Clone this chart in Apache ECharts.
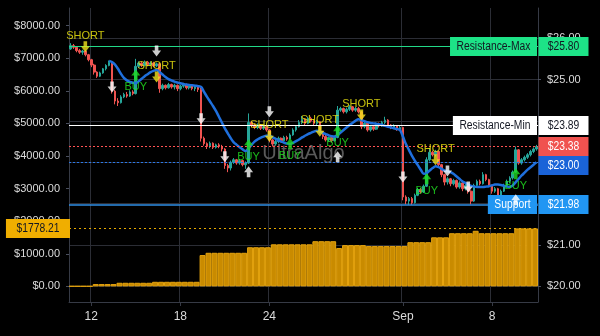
<!DOCTYPE html>
<html>
<head>
<meta charset="utf-8">
<script src="https://cdn.jsdelivr.net/npm/echarts@6/dist/echarts.min.js"></script>
<style>
html,body{margin:0;padding:0;background:#000;}
#chart{width:600px;height:336px;}
</style>
</head>
<body>
<div id="chart"></div>
<script>
// Price candles: [open, close, low, high]
const candles = [
[25.74,25.82,25.72,25.88],[25.82,25.78,25.74,25.86],[25.78,25.70,25.66,25.80],[25.70,25.66,25.62,25.74],[25.66,25.69,25.60,25.72],
[25.69,25.60,25.56,25.71],[25.60,25.48,25.44,25.62],[25.48,25.35,25.30,25.50],[25.35,25.18,25.12,25.38],[25.18,25.08,25.04,25.20],
[25.08,25.16,25.06,25.19],[25.16,25.26,25.14,25.28],[25.26,25.34,25.22,25.37],[25.34,25.42,25.32,25.46],[25.42,24.72,24.66,25.44],
[24.72,24.48,24.40,24.75],[24.48,24.44,24.36,24.55],[24.44,24.58,24.42,24.62],[24.58,24.64,24.55,24.68],[24.64,24.60,24.56,24.70],
[24.60,24.70,24.58,24.74],[24.70,24.66,24.62,24.74],[24.66,25.32,24.64,25.50],[25.32,25.40,25.28,25.44],[25.40,25.34,25.30,25.44],
[25.34,25.42,25.32,25.46],[25.42,25.36,25.32,25.45],[25.36,25.40,25.34,25.44],[25.40,25.33,25.30,25.43],[25.33,25.38,25.30,25.41],
[25.38,24.78,24.68,25.40],[24.78,24.86,24.74,24.90],[24.86,24.80,24.76,24.88],[24.80,24.88,24.78,24.92],[24.88,24.82,24.78,24.90],
[24.82,24.86,24.76,24.90],[24.86,24.78,24.72,24.88],[24.78,24.84,24.74,24.87],[24.84,24.88,24.80,24.92],[24.88,24.80,24.76,24.90],
[24.80,24.85,24.76,24.88],[24.85,24.78,24.74,24.88],[24.78,24.82,24.72,24.86],[24.82,24.76,24.70,24.85],[24.76,23.58,23.50,24.80],
[23.58,23.45,23.40,23.62],[23.45,23.38,23.32,23.48],[23.38,23.46,23.34,23.50],[23.46,23.36,23.32,23.48],[23.36,23.42,23.33,23.45],
[23.42,23.38,23.34,23.46],[23.38,23.32,23.26,23.42],[23.32,22.92,22.84,23.34],[22.92,22.86,22.76,22.96],[22.86,23.00,22.80,23.04],
[23.00,23.06,22.96,23.10],[23.06,22.98,22.94,23.08],[22.98,23.04,22.94,23.08],[23.04,22.94,22.90,23.06],[22.94,22.98,22.84,23.02],
[22.98,23.96,22.96,24.18],[23.96,23.90,23.84,24.00],[23.90,23.84,23.80,23.94],[23.84,23.90,23.80,23.94],[23.90,23.82,23.78,23.92],
[23.82,23.86,23.78,23.90],[23.86,23.78,23.74,23.88],[23.78,23.54,23.48,23.80],[23.54,23.44,23.38,23.56],[23.44,23.50,23.40,23.54],
[23.50,23.58,23.46,23.62],[23.58,23.52,23.48,23.60],[23.52,23.60,23.50,23.64],[23.60,23.56,23.52,23.64],[23.56,23.66,23.54,23.70],
[23.66,23.78,23.64,23.82],[23.78,23.86,23.74,23.90],[23.86,23.96,23.84,24.02],[23.96,24.04,23.92,24.12],[24.04,23.94,23.90,24.06],
[23.94,24.06,23.92,24.10],[24.06,24.00,23.96,24.10],[24.00,23.94,23.90,24.04],[23.94,23.98,23.90,24.02],[23.98,23.74,23.70,24.00],
[23.74,23.62,23.56,23.76],[23.62,23.54,23.50,23.66],[23.54,23.60,23.50,23.62],[23.60,23.52,23.48,23.62],[23.52,23.60,23.50,23.64],
[23.60,24.26,23.58,24.36],[24.26,24.30,24.22,24.34],[24.30,24.22,24.18,24.32],[24.22,24.28,24.18,24.32],[24.28,24.34,24.24,24.38],
[24.34,24.26,24.22,24.36],[24.26,24.30,24.22,24.34],[24.30,24.22,24.18,24.34],[24.22,23.86,23.80,24.24],[23.86,23.94,23.82,23.98],
[23.94,23.78,23.74,23.96],[23.78,23.86,23.74,23.90],[23.86,23.80,23.76,23.90],[23.80,23.92,23.78,23.96],[23.92,23.88,23.84,23.96],
[23.88,23.96,23.86,24.00],[23.96,24.02,23.92,24.10],[24.02,23.90,23.86,24.04],[23.90,23.84,23.80,23.92],[23.84,23.88,23.80,23.92],
[23.88,23.80,23.76,23.90],[23.80,23.84,23.76,23.88],[23.84,22.16,22.08,23.86],[22.16,22.06,21.98,22.20],[22.06,22.12,21.97,22.16],
[22.12,22.02,21.97,22.16],[22.02,22.20,22.00,22.24],[22.20,22.34,22.18,22.38],[22.34,22.28,22.24,22.38],[22.28,22.42,22.26,22.46],
[22.42,23.06,22.40,23.12],[23.06,23.24,23.02,23.34],[23.24,23.18,23.14,23.28],[23.18,23.26,23.14,23.30],[23.26,22.94,22.88,23.28],
[22.94,22.70,22.64,22.96],[22.70,22.52,22.44,22.72],[22.52,22.60,22.46,22.64],[22.60,22.48,22.42,22.62],[22.48,22.56,22.44,22.60],
[22.56,22.40,22.36,22.58],[22.40,22.50,22.36,22.54],[22.50,22.36,22.30,22.52],[22.36,22.44,22.32,22.48],[22.44,22.30,22.24,22.46],
[22.30,22.06,21.98,22.32],[22.06,22.44,22.04,22.48],[22.44,22.54,22.40,22.58],[22.54,22.48,22.44,22.58],[22.48,22.70,22.46,22.76],
[22.70,22.58,22.54,22.72],[22.58,22.44,22.40,22.60],[22.44,22.30,22.24,22.46],[22.30,22.36,22.26,22.40],[22.36,22.06,21.98,22.38],
[22.06,22.30,22.04,22.34],[22.30,22.44,22.28,22.48],[22.44,22.54,22.40,22.58],[22.54,22.62,22.50,22.66],[22.62,22.76,22.58,22.80],
[22.76,23.30,22.74,23.38],[23.30,22.98,22.94,23.32],[22.98,23.06,22.94,23.10],[23.06,23.12,23.02,23.16],[23.12,23.18,23.08,23.22],
[23.18,23.26,23.14,23.30],[23.26,23.32,23.22,23.36],[23.32,23.38,23.28,23.42]
];

// Trend line (moving average) per candle
const trendLine = [
null,null,null,null,null,null,null,null,null,null,
null,null,null,25.45,25.42,25.36,25.26,25.14,25.04,24.98,
24.94,24.92,24.91,24.96,25.02,25.08,25.13,25.18,25.21,25.23,
25.18,25.12,25.06,25.01,24.98,24.95,24.93,24.91,24.89,24.88,
24.87,24.86,24.85,24.84,24.82,24.70,24.58,24.47,24.36,24.24,
24.10,23.96,23.82,23.70,23.58,23.48,23.42,23.36,23.31,23.27,
23.34,23.42,23.50,23.55,23.59,23.62,23.64,23.64,23.61,23.57,
23.53,23.50,23.47,23.45,23.44,23.47,23.51,23.55,23.60,23.64,
23.68,23.71,23.74,23.76,23.74,23.71,23.68,23.65,23.63,23.62,
23.66,23.72,23.78,23.84,23.90,23.95,24.00,24.04,24.02,23.99,
23.97,23.95,23.94,23.93,23.92,23.90,23.88,23.86,23.84,23.82,
23.80,23.78,23.62,23.44,23.30,23.16,23.04,22.93,22.82,22.72,
22.74,22.80,22.86,22.90,22.88,22.84,22.80,22.78,22.76,22.72,
22.66,22.60,22.54,22.50,22.46,22.43,22.41,22.40,22.40,22.40,
22.41,22.42,22.44,22.46,22.46,22.45,22.43,22.41,22.40,22.44,
22.52,22.60,22.68,22.75,22.82,22.88,22.94,23.00
];

// Cumulative P&L histogram (left axis, dollars)
const pnlBins = [
5,5,5,5,70,70,70,70,110,110,
110,110,110,110,140,140,140,140,140,140,
140,140,960,1030,1030,1030,1030,1030,1030,1030,
1200,1200,1200,1200,1290,1290,1290,1290,1290,1290,
1290,1385,1385,1385,1385,1175,1265,1265,1265,1265,
1236,1236,1236,1236,1236,1236,1236,1355,1355,1355,
1355,1505,1505,1505,1630,1630,1630,1630,1705,1630,
1630,1630,1630,1630,1630,1778.21,1778.21,1778.21,1778.21
];

// Date ticks on the time axis
const tickIndex = [7, 37, 67, 112, 142];
const tickLabels = ['12', '18', '24', 'Sep', '8'];

// Signals: [candle index, price]
const shortSignals = [[5,25.79],[29,25.06],[67,23.63],[84,23.75],[98,24.14],[123,23.06]];
const buySignals = [[22,25.11],[60,23.42],[74,23.45],[90,23.76],[120,22.60],[150,22.72]];
const exitDown = [[14,24.82],[29,25.69],[44,24.05],[52,23.13],[67,24.22],[112,22.64],[127,22.79],[134,22.40]];
const exitUp = [[60,22.77],[90,23.13],[150,22.09]];

// Key levels
const resistanceMax = 25.80;
const resistanceMin = 23.89;
const support = 21.98;

const FONT = '"Liberation Sans", Arial, sans-serif';
const LABEL_SIZE = 11;
const ARROW_DOWN = 'path://M3,0H7V5H10L5,11L0,5H3Z';
const ARROW_UP = 'path://M5,0L10,6H7V11H3V6H0Z';
const AXIS_COLOR = '#363a45';
const GRID_COLOR = '#2b2d35';
const TEXT_COLOR = '#dcdcdc';

const lastClose = candles[candles.length - 1][1];
const lastTrend = trendLine[trendLine.length - 1];
const lastPnl = pnlBins[pnlBins.length - 1];

const categories = candles.map((_, i) => i);
const binCategories = pnlBins.map((_, i) => i);
const tickSet = new Set(tickIndex);
const isTick = (idx) => tickSet.has(idx);

const chart = echarts.init(document.getElementById('chart'), null, { renderer: 'canvas' });

const option = {
  backgroundColor: '#000000',
  animation: false,
  textStyle: { fontFamily: FONT },
  grid: { left: 69, right: 62, top: 8, bottom: 34 },
  graphic: [{
    type: 'text', z: 1, x: 303.5, y: 153,
    style: { text: 'UltraAlgo', fill: '#5a5a5a', font: '20px ' + FONT, align: 'center', verticalAlign: 'middle' }
  }],
  xAxis: [{
    type: 'category',
    data: categories,
    boundaryGap: true,
    axisLine: { onZero: false, lineStyle: { color: AXIS_COLOR } },
    axisTick: { show: true, alignWithLabel: true, interval: isTick, length: 4, lineStyle: { color: AXIS_COLOR } },
    axisLabel: {
      interval: isTick, color: TEXT_COLOR, fontSize: 12, fontFamily: FONT, margin: 9,
      formatter: (v, idx) => tickLabels[tickIndex.indexOf(idx)] || ''
    },
    splitLine: { show: true, interval: isTick, lineStyle: { color: GRID_COLOR } }
  }, {
    type: 'category',
    data: binCategories,
    boundaryGap: true,
    show: false
  }],
  yAxis: [{
    type: 'value', position: 'left',
    min: -480, max: 8540, splitNumber: 9, minInterval: 1000, maxInterval: 1000,
    axisLine: { show: true, lineStyle: { color: AXIS_COLOR } },
    axisTick: { show: true, length: 3, lineStyle: { color: '#4a4f5e' } },
    axisLabel: {
      color: TEXT_COLOR, fontSize: LABEL_SIZE, fontFamily: FONT, margin: 9,
      showMinLabel: false, showMaxLabel: false,
      formatter: (v) => '$' + v.toFixed(2)
    },
    splitLine: { show: false }
  }, {
    type: 'value', position: 'right',
    min: 19.62, max: 26.73, splitNumber: 7, minInterval: 1, maxInterval: 1,
    axisLine: { show: true, lineStyle: { color: AXIS_COLOR } },
    axisTick: { show: true, length: 3, lineStyle: { color: '#4a4f5e' } },
    axisLabel: {
      color: TEXT_COLOR, fontSize: LABEL_SIZE, fontFamily: FONT, margin: 9,
      showMinLabel: false, showMaxLabel: false,
      formatter: (v) => '$' + v.toFixed(2)
    },
    splitLine: { show: true, showMinLine: false, showMaxLine: false, lineStyle: { color: GRID_COLOR } }
  }],
  series: [{
    type: 'bar', name: 'pnl',
    xAxisIndex: 1, yAxisIndex: 0,
    data: pnlBins,
    barCategoryGap: '0%',
    itemStyle: { color: '#c98b00', borderColor: '#e6a40e', borderWidth: 1 },
    z: 2,
    markLine: {
      silent: true, symbol: ['none', 'none'], label: { show: false },
      data: [{ yAxis: lastPnl, lineStyle: { color: '#e8aa00', type: [2, 3], width: 1 } }]
    }
  }, {
    type: 'candlestick', name: 'price',
    xAxisIndex: 0, yAxisIndex: 1,
    data: candles,
    barWidth: '70%',
    itemStyle: { color: '#26a69a', color0: '#ef5350', borderColor: '#26a69a', borderColor0: '#ef5350', borderWidth: 1 },
    z: 3
  }, {
    type: 'line', name: 'trend',
    xAxisIndex: 0, yAxisIndex: 1,
    data: trendLine,
    showSymbol: false, smooth: 0.3,
    lineStyle: { color: '#1f6fdc', width: 2.5 },
    z: 4,
    markLine: {
      silent: true, symbol: ['none', 'none'], label: { show: false },
      data: [
        { yAxis: resistanceMax, lineStyle: { color: '#22d888', type: 'solid', width: 1 } },
        { yAxis: resistanceMin, lineStyle: { color: '#ffffff', type: 'solid', width: 1 } },
        { yAxis: support, lineStyle: { color: '#2f8fe6', type: 'solid', width: 1.5 } },
        { yAxis: lastClose, lineStyle: { color: '#ff5252', type: [2, 2], width: 1 } },
        { yAxis: lastTrend, lineStyle: { color: '#2a78e8', type: [2, 2], width: 1 } }
      ]
    }
  }, {
    type: 'scatter', name: 'short',
    xAxisIndex: 0, yAxisIndex: 1,
    data: shortSignals,
    symbol: ARROW_DOWN, symbolSize: [9, 11],
    itemStyle: { color: '#f2e41c' },
    label: { show: true, position: 'top', distance: 0, formatter: 'SHORT', color: '#f5ee10', fontSize: 11, fontFamily: FONT, textBorderWidth: 0 },
    z: 60
  }, {
    type: 'scatter', name: 'buy',
    xAxisIndex: 0, yAxisIndex: 1,
    data: buySignals,
    symbol: ARROW_UP, symbolSize: [9, 11],
    itemStyle: { color: '#1fd81f' },
    label: { show: true, position: 'bottom', distance: 1, formatter: 'BUY', color: '#22e622', fontSize: 11, fontFamily: FONT, textBorderWidth: 0 },
    z: 60
  }, {
    type: 'scatter', name: 'exitDown',
    xAxisIndex: 0, yAxisIndex: 1,
    data: exitDown,
    symbol: ARROW_DOWN, symbolSize: [9, 11],
    itemStyle: { color: '#ffffff' },
    z: 60
  }, {
    type: 'scatter', name: 'exitUp',
    xAxisIndex: 0, yAxisIndex: 1,
    data: exitUp,
    symbol: ARROW_UP, symbolSize: [9, 11],
    itemStyle: { color: '#ffffff' },
    z: 60
  }]
};

chart.setOption(option);

// Price tags on the right scale, level names inside the plot, P&L tag on the left scale
const TAG_FONT = '12px ' + FONT;
const TAG_SCALE = 0.86;
const measure = document.createElement('canvas').getContext('2d');
function textWidth(t) { measure.font = TAG_FONT; return measure.measureText(t).width * TAG_SCALE; }

const plotRight = 600 - 62;
const TAG_H = 19;
const priceTags = [
  { value: resistanceMax, name: 'Resistance-Max', bg: '#1de387', fg: '#131722' },
  { value: resistanceMin, name: 'Resistance-Min', bg: '#ffffff', fg: '#131722' },
  { value: lastClose, name: '', bg: '#f0524f', fg: '#ffffff' },
  { value: lastTrend, name: '', bg: '#1a63d8', fg: '#ffffff' },
  { value: support, name: 'Support', bg: '#2196f3', fg: '#ffffff' }
];

function tagText(x, y, text, fg) {
  return {
    type: 'text', z: 51, x: x, y: y, scaleX: TAG_SCALE,
    style: { text: text, fill: fg, font: TAG_FONT, align: 'center', verticalAlign: 'middle' }
  };
}

const tagElements = [];
let prevBottom = -Infinity;
priceTags
  .map(t => Object.assign({ y: chart.convertToPixel({ yAxisIndex: 1 }, t.value) }, t))
  .sort((a, b) => a.y - b.y)
  .forEach(t => {
    const top = Math.max(t.y - TAG_H / 2, prevBottom);
    prevBottom = top + TAG_H;
    tagElements.push({
      type: 'rect', z: 50,
      shape: { x: plotRight + 0.5, y: top, width: 50, height: TAG_H },
      style: { fill: t.bg }
    }, tagText(plotRight + 25.5, top + TAG_H / 2 + 0.5, '$' + t.value.toFixed(2), t.fg));
    if (t.name) {
      const w = textWidth(t.name) + 13;
      tagElements.push({
        type: 'rect', z: 50,
        shape: { x: plotRight - 1 - w, y: top, width: w, height: TAG_H },
        style: { fill: t.bg }
      }, tagText(plotRight - 1 - w / 2, top + TAG_H / 2 + 0.5, t.name, t.fg));
    }
  });

const pnlY = chart.convertToPixel({ yAxisIndex: 0 }, lastPnl);
const pnlText = '$' + lastPnl.toFixed(2);
const pnlW = textWidth(pnlText) + 21;
tagElements.push({
  type: 'rect', z: 50,
  shape: { x: 70 - pnlW, y: pnlY - TAG_H / 2, width: pnlW, height: TAG_H },
  style: { fill: '#f0ae00' }
}, tagText(70 - pnlW / 2, pnlY + 0.5, pnlText, '#131722'));

chart.setOption({ graphic: option.graphic.concat(tagElements) });
</script>
</body>
</html>
